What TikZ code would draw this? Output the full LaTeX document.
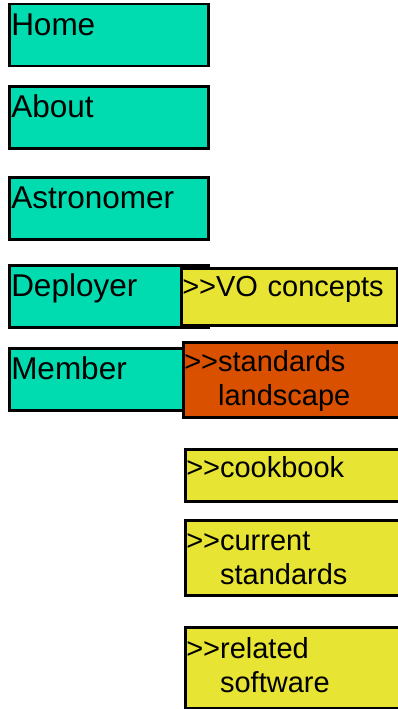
\documentclass[tikz,border=0pt]{standalone}
\usepackage{fontspec}
\setmainfont{Liberation Sans}
\usepackage{xcolor}
\usepackage{tikz}

\definecolor{menuteal}{HTML}{00DBB0}
\definecolor{menuyellow}{HTML}{E8E433}
\definecolor{menuorange}{HTML}{D95000}

% ">>" kept as two separate glyphs
\newcommand{\more}{\mbox{>}\mbox{>}}
\newcommand{\under}{\phantom{\more}}

\begin{document}
\begin{tikzpicture}[x=1pt,y=-1pt,
  tab/.style={draw, line width=2.5pt, fill=menuteal, anchor=north west, align=left,
    inner xsep=2pt, inner ysep=0pt, text width=195pt, text height=31pt, text depth=31pt,
    font=\fontsize{31.5}{34}\selectfont},
  sub/.style={draw, line width=2.5pt, fill=menuyellow, anchor=north west, align=left,
    inner xsep=1pt, inner ysep=0pt, text width=228pt,
    font=\fontsize{29}{34}\selectfont},
]
\clip (0,0) rectangle (398,709);
% main menu
\node[tab] (home) at (8,3) {Home};
\node[tab] (about) at (8,85) {About};
\node[tab] (astro) at (8,176) {Astronomer};
\node[tab] (deploy) at (8,264) {Deployer};
\node[tab] (member) at (8,347) {Member};
% submenu
\node[sub, text width=214pt, text height=28pt, text depth=29pt] (concepts) at (180,267) {\more VO concepts};
\node[sub, fill=menuorange, text height=29pt, text depth=46pt] (landscape) at (182,341) {\more standards\\\under landscape};
\node[sub, text height=28pt, text depth=24pt] (cookbook) at (184,448) {\more cookbook};
\node[sub, text height=30pt, text depth=45pt] (current) at (184,519) {\more current\\\under standards};
\node[sub, text height=31pt, text depth=50pt] (software) at (184,626) {\more related\\\under software};
\end{tikzpicture}
\end{document}
